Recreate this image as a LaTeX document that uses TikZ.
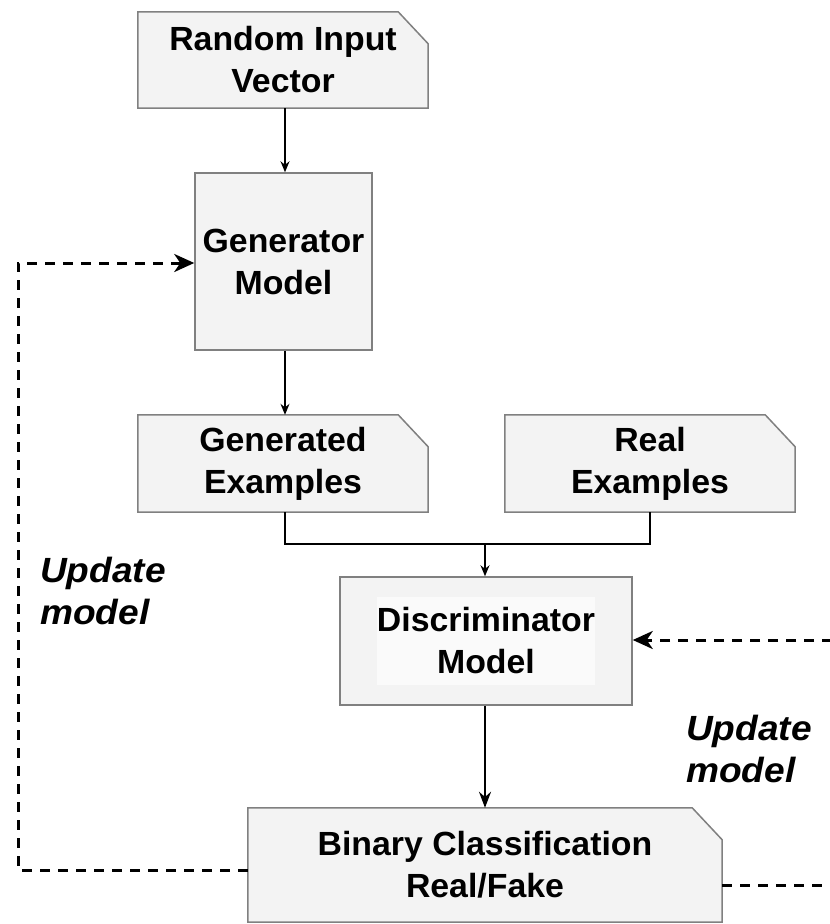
\documentclass[tikz,border=0pt]{standalone}
\usepackage{fontspec}
\setmainfont{Liberation Sans}[FakeStretch=1.01]
\newfontfamily\notefont{Liberation Sans}[FakeStretch=1.06]
\usetikzlibrary{arrows.meta}
\pgfdeclarelayer{background}
\pgfsetlayers{background,main}
\definecolor{boxfill}{RGB}{243,243,243}
\definecolor{boxline}{RGB}{128,128,128}
\definecolor{discin}{RGB}{250,250,250}
\tikzset{
  lbl/.style={font=\bfseries\fontsize{33.5}{42}\selectfont, align=center, text=black},
  plainbox/.style={draw=boxline, fill=boxfill, line width=1.5pt, rectangle, inner sep=0pt},
  slot/.style={rectangle, inner sep=0pt},
  cutline/.style={draw=boxline, fill=boxfill, line width=1.5pt, line join=miter},
  flow/.style={draw=black, line width=1.3pt, -{Stealth[length=11pt,width=9pt]}},
  bigflow/.style={draw=black, line width=2pt, -{Stealth[length=16pt,width=12pt]}},
  plainline/.style={draw=black, line width=1.3pt},
  upd/.style={draw=black, line width=3pt, dash pattern=on 10pt off 8pt},
  updarrow/.style={upd, -{Stealth[length=20pt,width=18pt,inset=6pt]}},
  note/.style={font=\notefont\bfseries\itshape\fontsize{35}{42}\selectfont, align=left, anchor=west, inner sep=0pt}
}
\newcommand{\cutoutline}[1]{%
  \path[cutline] (#1.south west) -- (#1.north west) -- ([xshift=-30pt]#1.north east)
    -- ([yshift=-32pt]#1.north east) -- (#1.south east) -- cycle;}
\begin{document}
\begin{tikzpicture}[x=1pt,y=-1pt]
\useasboundingbox (0,0) rectangle (830,924);

\node[slot, lbl, minimum width=290pt, minimum height=96pt] (rand) at (283,60) {Random Input\\Vector};
\node[plainbox, lbl, minimum width=177pt, minimum height=177pt] (gen) at (283.5,261.5) {Generator\\Model};
\node[slot, lbl, minimum width=290pt, minimum height=97pt] (genex) at (283,463.5) {Generated\\Examples};
\node[slot, lbl, minimum width=290pt, minimum height=97pt] (real) at (650,463.5) {Real\\Examples};
\node[plainbox, minimum width=292pt, minimum height=128pt] (disc) at (486,641) {};
\node[lbl, fill=discin, inner sep=0pt, minimum width=217pt, minimum height=88pt] (disctext) at (disc.center) {Discriminator\\Model};
\node[slot, lbl, minimum width=474pt, minimum height=114pt] (bin) at (485,865) {Binary Classification\\Real/Fake};

\begin{pgfonlayer}{background}
\cutoutline{rand}
\cutoutline{genex}
\cutoutline{real}
\cutoutline{bin}
\end{pgfonlayer}

\node[note] (updl) at (40,591) {Update\\model};
\node[note] (updr) at (686,749) {Update\\model};

\coordinate (join) at (485,544);
\coordinate (lcorner) at (18,263);
\coordinate (rin) at (832,640);
\coordinate (rout) at (832,885);

\draw[flow] (rand.south -| 285,0) -- (gen.north -| 285,0);
\draw[flow] (gen.south -| 285,0) -- (genex.north -| 285,0);
\draw[plainline] (genex.south -| 285,0) |- (join);
\draw[plainline] (real.south) |- (join);
\draw[flow] (join) -- (disc.north -| join);
\draw[bigflow] (disc.south -| join) -- (bin.north -| join);

\draw[updarrow] ([yshift=-5pt]bin.west) -| (lcorner) -- (lcorner -| gen.west);
\draw[updarrow] (rin) -- (rin -| disc.east);
\draw[upd] ([yshift=-20pt]bin.east) -- (rout);
\end{tikzpicture}
\end{document}
